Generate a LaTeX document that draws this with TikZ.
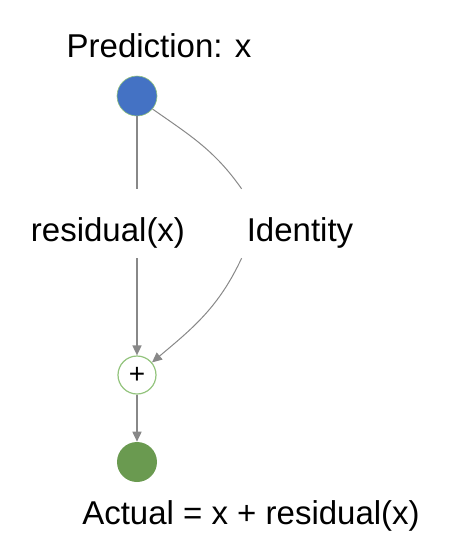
\documentclass[tikz,border=0pt]{standalone}
\usepackage{fontspec}
\setmainfont{Liberation Sans}
\usetikzlibrary{arrows.meta}
\definecolor{predblue}{HTML}{4472C4}
\definecolor{actgreen}{HTML}{6A9A50}
\definecolor{ringgreen}{HTML}{93C47D}
\definecolor{edgegray}{HTML}{888888}
\begin{document}
\begin{tikzpicture}[x=1pt,y=-1pt,
  lbl/.style={font=\fontsize{33}{36}\selectfont, inner sep=0pt, text height=23pt, text depth=6pt, anchor=base},
  dot/.style={circle, minimum size=40pt, inner sep=0pt, draw=ringgreen, line width=0.6pt},
  link/.style={draw=edgegray, line width=1.6pt},
  arr/.style={link, -{Triangle[length=10pt,width=9pt]}},
  thinlink/.style={draw=edgegray, line width=1pt}
]
\useasboundingbox (0,0) rectangle (450,550);
\node[lbl] (predlbl) at (159,57) {Prediction: x};
\node[dot, fill=predblue] (pred) at (137,96) {};
\node[lbl] (res) at (108,241) {residual(x)};
\node[lbl] (id) at (300,241) {Identity};
\node[dot, fill=white, line width=1.2pt, minimum size=38pt, font=\fontsize{28}{30}\selectfont] (plus) at (137,375) {+};
\node[dot, fill=actgreen, draw=none] (act) at (137,462) {};
\node[lbl] (actlbl) at (251,524) {Actual = x + residual(x)};

\draw[link] (pred) -- ([yshift=29pt]res.north -| pred);
\draw[arr] ([yshift=-11pt]res.south -| pred) -- (plus);
\draw[thinlink] (pred.-40) to[out=-35,in=125] ([yshift=29pt,xshift=-5pt]id.north west);
\draw[thinlink, -{Triangle[length=10pt,width=9pt]}] ([yshift=-11pt,xshift=-5pt]id.south west) to[out=-115,in=40] (plus.40);
\draw[arr] (plus) -- (act);
\end{tikzpicture}
\end{document}
